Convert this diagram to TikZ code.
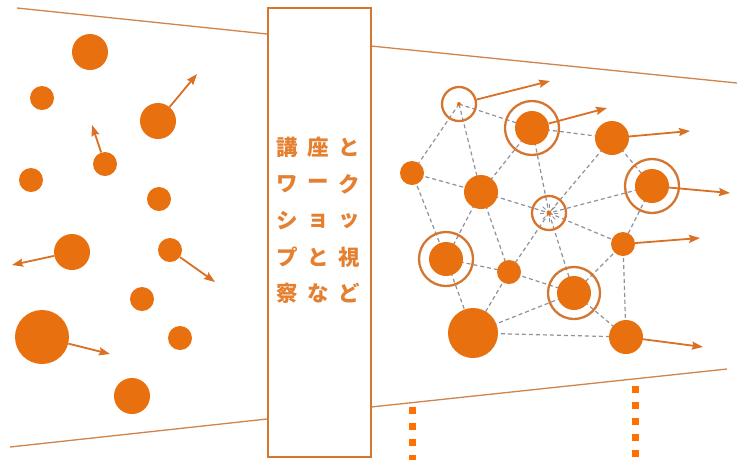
\documentclass[tikz,border=0pt]{standalone}
\usepackage{fontspec}
\newfontfamily\jp{Noto Sans CJK JP}
\usetikzlibrary{arrows.meta,calc}
\definecolor{dotorange}{RGB}{232,112,14}
\definecolor{ringc}{RGB}{212,118,48}
\definecolor{linec}{RGB}{210,132,72}
\definecolor{arrc}{RGB}{218,112,36}
\definecolor{edgec}{RGB}{145,145,158}
\definecolor{txtc}{RGB}{228,128,48}
\definecolor{sqc}{RGB}{255,112,0}
\pgfdeclarelayer{back}
\pgfdeclarelayer{bg}
\pgfsetlayers{back,bg,main}
\tikzset{
  disk/.style={circle,fill=dotorange,inner sep=0pt,minimum size=#1},
  ringn/.style={circle,draw=ringc,line width=2.3pt,inner sep=0pt,minimum size=#1},
  arr/.style={draw=arrc,line width=1.8pt,-{Stealth[length=11pt,width=8pt,inset=1.5pt]}},
  edge/.style={draw=edgec,line width=1.2pt,dash pattern=on 4pt off 3pt},
  border/.style={draw=linec,line width=1.3pt},
  sq/.style={draw=sqc,line width=7pt,dash pattern=on 7pt off 9pt},
  jch/.style={font=\jp\bfseries\fontsize{21.5}{21.5}\selectfont,text=txtc,inner sep=0pt}
}
\begin{document}
\begin{tikzpicture}[x=1pt,y=-1pt]
\begin{pgfonlayer}{back}
\path[fill=white] (0,0) rectangle (738,459);
\end{pgfonlayer}
\useasboundingbox (0,0) rectangle (738,459);
% frame lines
\coordinate (tl0) at (17,8); \coordinate (tl1) at (267,34);
\coordinate (tr0) at (371,46); \coordinate (tr1) at (737,83);
\coordinate (bl0) at (10,447); \coordinate (bl1) at (267,419);
\coordinate (br0) at (371,407); \coordinate (br1) at (727,369);
\draw[border] (tl0) -- (tl1);
\draw[border] (tr0) -- (tr1);
\draw[border] (bl0) -- (bl1);
\draw[border] (br0) -- (br1);
% central box
\node[draw=ringc,line width=2pt,fill=white,inner sep=0pt,minimum width=103pt,minimum height=449pt] (box) at (319,232) {};
\foreach \row/\y in {{講,座,と}/147,{ワ,ー,ク}/184,{シ,ョ,ッ}/221,{プ,と,視}/257,{察,な,ど}/293}{
  \foreach \ch [count=\c] in \row {
    \node[jch] (t-\y-\c) at ({256+31*\c},\y) {\ch};
  }
}
% left particles
\node[disk=36pt] (l1) at (90,52) {};
\node[disk=24pt] (l2) at (42,98) {};
\node[disk=36pt] (l3) at (158,121) {};
\node[disk=24pt] (l4) at (105,164) {};
\node[disk=24pt] (l5) at (31,180) {};
\node[disk=24pt] (l6) at (159,199) {};
\node[disk=36pt] (l7) at (72,252) {};
\node[disk=24pt] (l8) at (170,250) {};
\node[disk=24pt] (l9) at (142,299) {};
\node[disk=54pt] (l10) at (42,337) {};
\node[disk=24pt] (l11) at (180,338) {};
\node[disk=36pt] (l12) at (132,396) {};
\coordinate (l3t) at (197,74);
\coordinate (l4t) at (92,125);
\coordinate (l7t) at (12,265);
\coordinate (l8t) at (215,282);
\coordinate (l10t) at (110,354);
\draw[arr] (l3) -- (l3t);
\draw[arr] (l4) -- (l4t);
\draw[arr] (l7) -- (l7t);
\draw[arr] (l8) -- (l8t);
\draw[arr] (l10) -- (l10t);
% right network
\node[ringn=34pt] (A) at (459,104) {};
\node[disk=34pt] (B) at (532,128) {};
\node[ringn=54pt] (Br) at (532,128) {};
\node[disk=34pt] (C) at (612,138) {};
\node[disk=34pt] (D) at (652,186) {};
\node[ringn=54pt] (Dr) at (652,186) {};
\node[disk=24pt] (E) at (412,173) {};
\node[disk=34pt] (F) at (481,192) {};
\node[ringn=34pt] (G) at (549,213) {};
\node[disk=24pt] (H) at (623,244) {};
\node[disk=34pt] (I) at (446,259) {};
\node[ringn=54pt] (Ir) at (446,259) {};
\node[disk=24pt] (J) at (509,272) {};
\node[disk=34pt] (K) at (574,293) {};
\node[ringn=52pt] (Kr) at (574,293) {};
\node[disk=50pt] (L) at (473,333) {};
\node[disk=34pt] (M) at (626,337) {};
\fill[dotorange] (A.center) circle (2pt);
\fill[dotorange] (G.center) circle (2.5pt);
\foreach \a in {0,45,...,315}{
  \draw[draw=edgec,line width=1pt] ($(G.center)+(\a:5pt)$) -- ($(G.center)+(\a:9pt)$);
}
\begin{pgfonlayer}{bg}
\foreach \u/\v in {A/B,A/E,A/F,B/F,B/G,B/C,C/G,C/D,D/G,D/H,E/F,E/I,F/G,F/I,F/J,G/J,G/K,G/H,H/K,H/M,K/M,I/J,J/K,I/L,J/L,L/K,L/M}{
  \draw[edge] (\u.center) -- (\v.center);
}
\end{pgfonlayer}
\coordinate (At) at (550,81);
\coordinate (Bt) at (607,108);
\coordinate (Ct) at (690,131);
\coordinate (Dt) at (730,193);
\coordinate (Ht) at (700,238);
\coordinate (Mt) at (703,347);
\draw[arr] (A) -- (At);
\draw[arr] (B) -- (Bt);
\draw[arr] (C) -- (Ct);
\draw[arr] (D) -- (Dt);
\draw[arr] (H) -- (Ht);
\draw[arr] (M) -- (Mt);
% dotted markers
\coordinate (s1a) at (412.5,407); \coordinate (s1b) at (412.5,470);
\coordinate (s2a) at (635,386); \coordinate (s2b) at (635,470);
\draw[sq] (s1a) -- (s1b);
\draw[sq] (s2a) -- (s2b);
\end{tikzpicture}
\end{document}
